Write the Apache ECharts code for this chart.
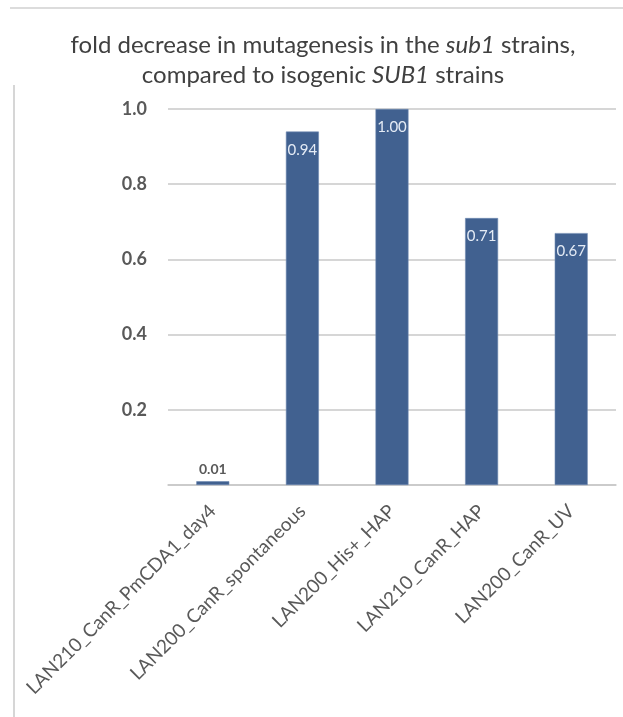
<!DOCTYPE html>
<html>
<head>
<meta charset="utf-8">
<script src="https://cdn.jsdelivr.net/npm/echarts@6/dist/echarts.min.js"></script>
<style>
  html, body { margin: 0; padding: 0; background: #fff; }
  #chart { width: 623px; height: 717px; }
</style>
</head>
<body>
<div id="chart"></div>
<script>
// Strains compared
const categories = [
  'LAN210_CanR_PmCDA1_day4',
  'LAN200_CanR_spontaneous',
  'LAN200_His+_HAP',
  'LAN210_CanR_HAP',
  'LAN200_CanR_UV'
];
// Fold decrease values
const foldDecrease = [0.01, 0.94, 1.00, 0.71, 0.67];
// Value axis ticks
const yTicks = [0.2, 0.4, 0.6, 0.8, 1.0];

const chart = echarts.init(document.getElementById('chart'));

// Tiny bars get their value above the bar instead of inside
const barData = foldDecrease.map(v => {
  const item = { value: v };
  if (v < 0.1) {
    item.label = {
      position: 'top',
      distance: 5,
      color: '#595959',
      fontWeight: 'bold',
      fontSize: 14
    };
  }
  return item;
});

chart.setOption({
  animation: false,
  title: {
    text: '{n|fold decrease in mutagenesis in the }{i|sub1}{n| strains,}\n{n|compared to isogenic }{i|SUB1}{n| strains}',
    left: 318,
    top: 25,
    textAlign: 'center',
    textStyle: {
      fontWeight: 'normal',
      rich: {
        n: { fontFamily: 'Lato', fontSize: 24, fontWeight: 'normal', color: '#404040', lineHeight: 30 },
        i: { fontFamily: 'Lato', fontSize: 24, fontWeight: 'normal', color: '#404040', fontStyle: 'italic', lineHeight: 30 }
      }
    }
  },
  graphic: [
    { type: 'line', shape: { x1: 10, y1: 8, x2: 623, y2: 8 }, style: { stroke: '#d0d0d0', lineWidth: 1.5 } },
    { type: 'line', shape: { x1: 14, y1: 85, x2: 14, y2: 717 }, style: { stroke: '#c8c8c8', lineWidth: 1.5 } }
  ],
  grid: { left: 168, right: 7, top: 109, bottom: 232, containLabel: false },
  xAxis: {
    type: 'category',
    data: categories,
    axisTick: { show: false },
    axisLine: { lineStyle: { color: '#c8c8c8', width: 1.5 } },
    axisLabel: {
      rotate: 45,
      interval: 0,
      margin: 23,
      fontFamily: 'Lato',
      fontSize: 19,
      color: '#595959'
    }
  },
  yAxis: {
    type: 'value',
    min: 0,
    max: 1.0,
    interval: 0.2,
    axisLine: { show: false },
    axisTick: { show: false },
    splitLine: { lineStyle: { color: '#c8c8c8', width: 1.5 } },
    axisLabel: {
      margin: 21,
      fontFamily: 'Lato',
      fontSize: 18,
      fontWeight: 'bold',
      color: '#595959',
      formatter: v => (yTicks.some(t => Math.abs(t - v) < 1e-9) ? v.toFixed(1) : '')
    }
  },
  series: [{
    type: 'bar',
    data: barData,
    barWidth: 33,
    itemStyle: { color: '#416190', borderColor: '#6f8ab2', borderWidth: 0.6 },
    label: {
      show: true,
      position: 'insideTop',
      distance: 11,
      fontFamily: 'Lato',
      fontSize: 15,
      color: '#e4ebf5',
      formatter: p => p.value.toFixed(2)
    }
  }]
});
</script>
</body>
</html>
